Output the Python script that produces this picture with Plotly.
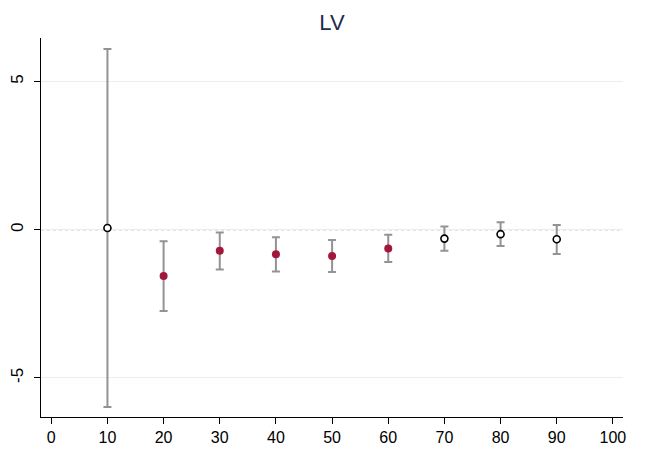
import plotly.graph_objects as go

# Data
x_vals = [10, 20, 30, 40, 50, 60, 70, 80, 90]
estimates = [0.06, -1.56, -0.71, -0.83, -0.89, -0.63, -0.30, -0.15, -0.32]
ci_low = [-5.98, -2.74, -1.34, -1.41, -1.43, -1.09, -0.71, -0.55, -0.82]
ci_high = [6.10, -0.39, -0.09, -0.25, -0.35, -0.17, 0.11, 0.25, 0.16]
significant = [False, True, True, True, True, True, False, False, False]

x_ticks = [0, 10, 20, 30, 40, 50, 60, 70, 80, 90, 100]
y_ticks = [-5, 0, 5]

RED = "#a3173d"
GRAY = "#939393"

fig = go.Figure()

for sig in (False, True):
    idx = [i for i, s in enumerate(significant) if s == sig]
    xs = [x_vals[i] for i in idx]
    ys = [estimates[i] for i in idx]
    plus = [ci_high[i] - estimates[i] for i in idx]
    minus = [estimates[i] - ci_low[i] for i in idx]
    if sig:
        marker = dict(color=RED, size=8, line=dict(width=0))
    else:
        marker = dict(color="white", size=7, line=dict(color="black", width=1.6))
    fig.add_trace(go.Scatter(
        x=xs, y=ys, mode="markers", marker=marker,
        error_y=dict(type="data", symmetric=False, array=plus, arrayminus=minus,
                     color=GRAY, thickness=2, width=4),
        showlegend=False,
    ))

# dotted reference line at zero
fig.add_shape(type="line", xref="paper", x0=0, x1=1, yref="y", y0=0, y1=0,
              line=dict(color="#7f8f96", width=1, dash="dot"), layer="below")

W, H = 646, 449  # page body adds an 8px margin
fig.update_layout(
    width=W, height=H,
    margin=dict(l=33, r=31, t=30, b=40),
    paper_bgcolor="white", plot_bgcolor="white",
    title=dict(text="LV", x=0.5, xref="paper", y=1 - 14 / H, yref="container",
               xanchor="center", yanchor="middle",
               font=dict(family="Arial", size=22, color="#1c2c4e")),
    font=dict(family="Arial", size=16, color="black"),
)

fig.update_xaxes(
    range=[-1.83, 101.8], tickvals=x_ticks, ticktext=[str(v) for v in x_ticks],
    showgrid=False, zeroline=False, automargin=False,
    showline=True, linecolor="black", linewidth=1,
    ticks="outside", ticklen=6, tickcolor="black", tickwidth=1,
    tickfont=dict(family="Arial", size=16, color="black"),
)
fig.update_yaxes(
    range=[-6.32, 6.47], tickvals=y_ticks, ticktext=[str(v) for v in y_ticks],
    showgrid=True, gridcolor="#e6eef1", gridwidth=1, zeroline=False, automargin=False,
    showline=True, linecolor="black", linewidth=1,
    ticks="outside", ticklen=6, tickcolor="black", tickwidth=1,
    tickangle=-90, ticklabelstandoff=4,
    tickfont=dict(family="Arial", size=17, color="black"),
)

fig.write_html("out.html")
